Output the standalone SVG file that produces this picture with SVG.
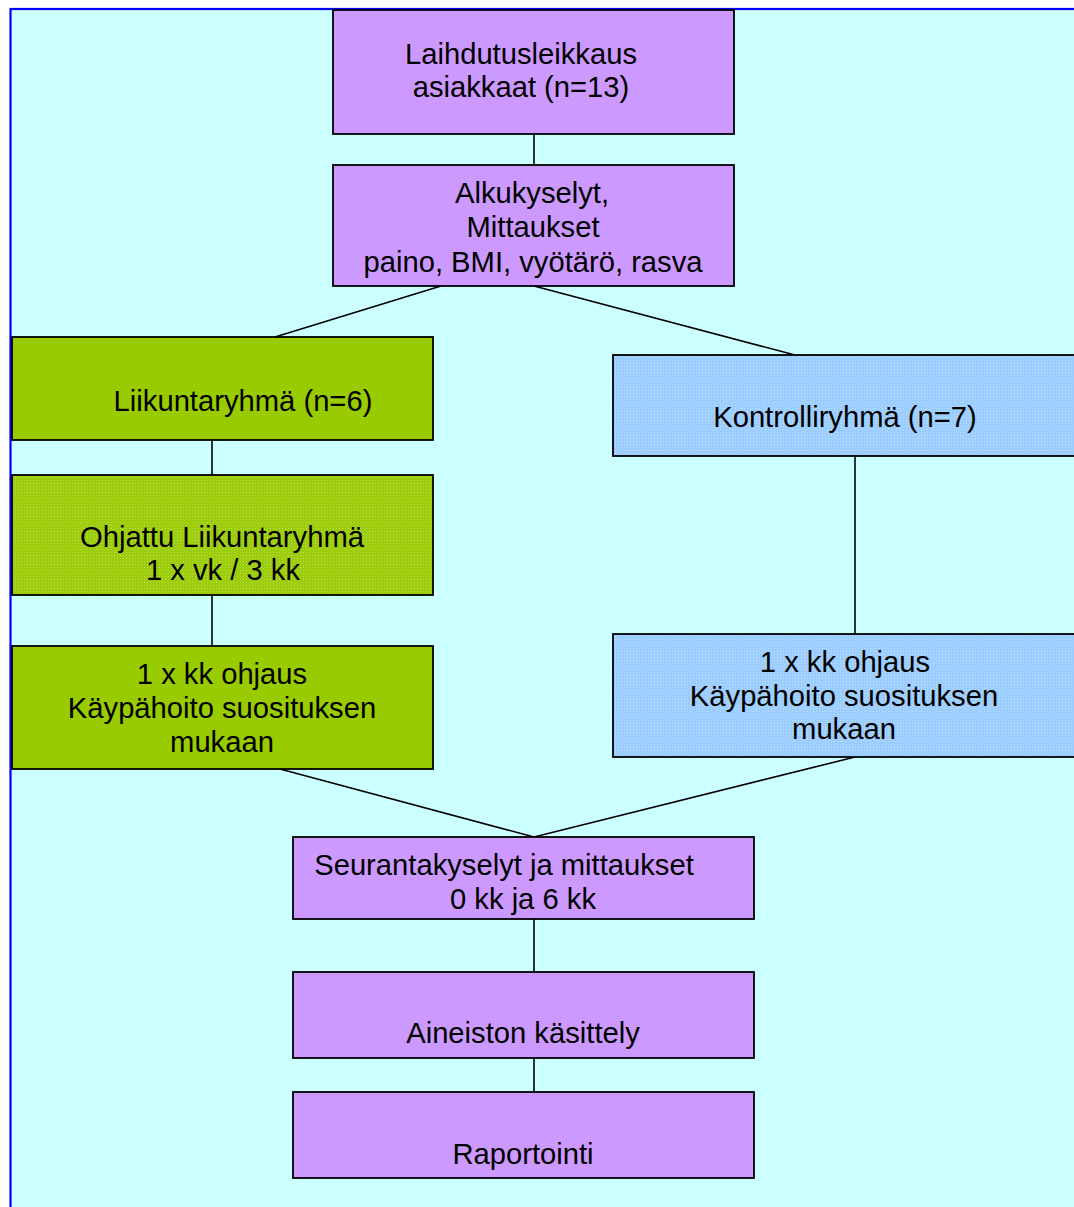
<svg xmlns="http://www.w3.org/2000/svg" width="1074" height="1207" viewBox="0 0 1074 1207">
<style>
.box{stroke:#000;stroke-width:1.8}
.p{fill:#CC99FF}
.g{fill:#99CC00}
.t{font-family:"Liberation Sans",Arial,sans-serif;font-size:29.2px;fill:#000;text-anchor:middle}
.c{stroke:#000;stroke-width:1.6;fill:none}
</style>
<defs>
<pattern id="gdots" width="3" height="3" patternUnits="userSpaceOnUse">
<rect width="3" height="3" fill="#99CC00"/>
<rect x="0" y="0" width="1" height="1" fill="#C2DE6A"/>
<rect x="1.5" y="1.5" width="1" height="1" fill="#B0D540"/>
</pattern>
<pattern id="bdots" width="3" height="3" patternUnits="userSpaceOnUse">
<rect width="3" height="3" fill="#99CCFF"/>
<rect x="0" y="0" width="1" height="1" fill="#BFE0FF"/>
<rect x="1.5" y="1.5" width="1" height="1" fill="#ADD6FF"/>
</pattern>
</defs>
<rect x="0" y="0" width="1074" height="1207" fill="#FFFFFF"/>
<rect x="10.5" y="9" width="1080" height="1220" fill="#CCFFFF" stroke="#0000FF" stroke-width="2.2"/>
<g id="connectors">
<line class="c" x1="534" y1="135" x2="534" y2="165"/>
<line class="c" x1="441" y1="286" x2="275" y2="337"/>
<line class="c" x1="534" y1="286" x2="795" y2="355"/>
<line class="c" x1="212" y1="440" x2="212" y2="475"/>
<line class="c" x1="212" y1="595" x2="212" y2="646"/>
<line class="c" x1="855" y1="456" x2="855" y2="634"/>
<line class="c" x1="280" y1="769" x2="534" y2="837"/>
<line class="c" x1="855" y1="757" x2="534" y2="837"/>
<line class="c" x1="534" y1="919" x2="534" y2="972"/>
<line class="c" x1="534" y1="1058" x2="534" y2="1092"/>
</g>
<g id="n1">
<rect class="box p" x="333" y="10" width="401" height="124"/>
<text class="t" x="521" y="64">Laihdutusleikkaus</text>
<text class="t" x="521" y="97">asiakkaat (n=13)</text>
</g>
<g id="n2">
<rect class="box p" x="333" y="165" width="401" height="121"/>
<text class="t" x="532" y="203">Alkukyselyt,</text>
<text class="t" x="533" y="237">Mittaukset</text>
<text class="t" x="533" y="272">paino, BMI, vyötärö, rasva</text>
</g>
<g id="n3">
<rect class="box g" x="12" y="337" width="421" height="103"/>
<text class="t" x="243" y="411">Liikuntaryhmä (n=6)</text>
</g>
<g id="n4">
<rect class="box" fill="url(#gdots)" x="12" y="475" width="421" height="120"/>
<text class="t" x="222" y="547">Ohjattu Liikuntaryhmä</text>
<text class="t" x="223" y="580">1 x vk / 3 kk</text>
</g>
<g id="n5">
<rect class="box g" x="12" y="646" width="421" height="123"/>
<text class="t" x="222" y="684">1 x kk ohjaus</text>
<text class="t" x="222" y="718">Käypähoito suosituksen</text>
<text class="t" x="222" y="752">mukaan</text>
</g>
<g id="n6">
<rect class="box" fill="url(#bdots)" x="613" y="355" width="475" height="101"/>
<text class="t" x="845" y="427">Kontrolliryhmä (n=7)</text>
</g>
<g id="n7">
<rect class="box" fill="url(#bdots)" x="613" y="634" width="475" height="123"/>
<text class="t" x="845" y="672">1 x kk ohjaus</text>
<text class="t" x="844" y="706">Käypähoito suosituksen</text>
<text class="t" x="844" y="739">mukaan</text>
</g>
<g id="n8">
<rect class="box p" x="293" y="837" width="461" height="82"/>
<text class="t" x="504" y="875">Seurantakyselyt ja mittaukset</text>
<text class="t" x="523" y="909">0 kk ja 6 kk</text>
</g>
<g id="n9">
<rect class="box p" x="293" y="972" width="461" height="86"/>
<text class="t" x="523" y="1043">Aineiston käsittely</text>
</g>
<g id="n10">
<rect class="box p" x="293" y="1092" width="461" height="86"/>
<text class="t" x="523" y="1164">Raportointi</text>
</g>
</svg>
